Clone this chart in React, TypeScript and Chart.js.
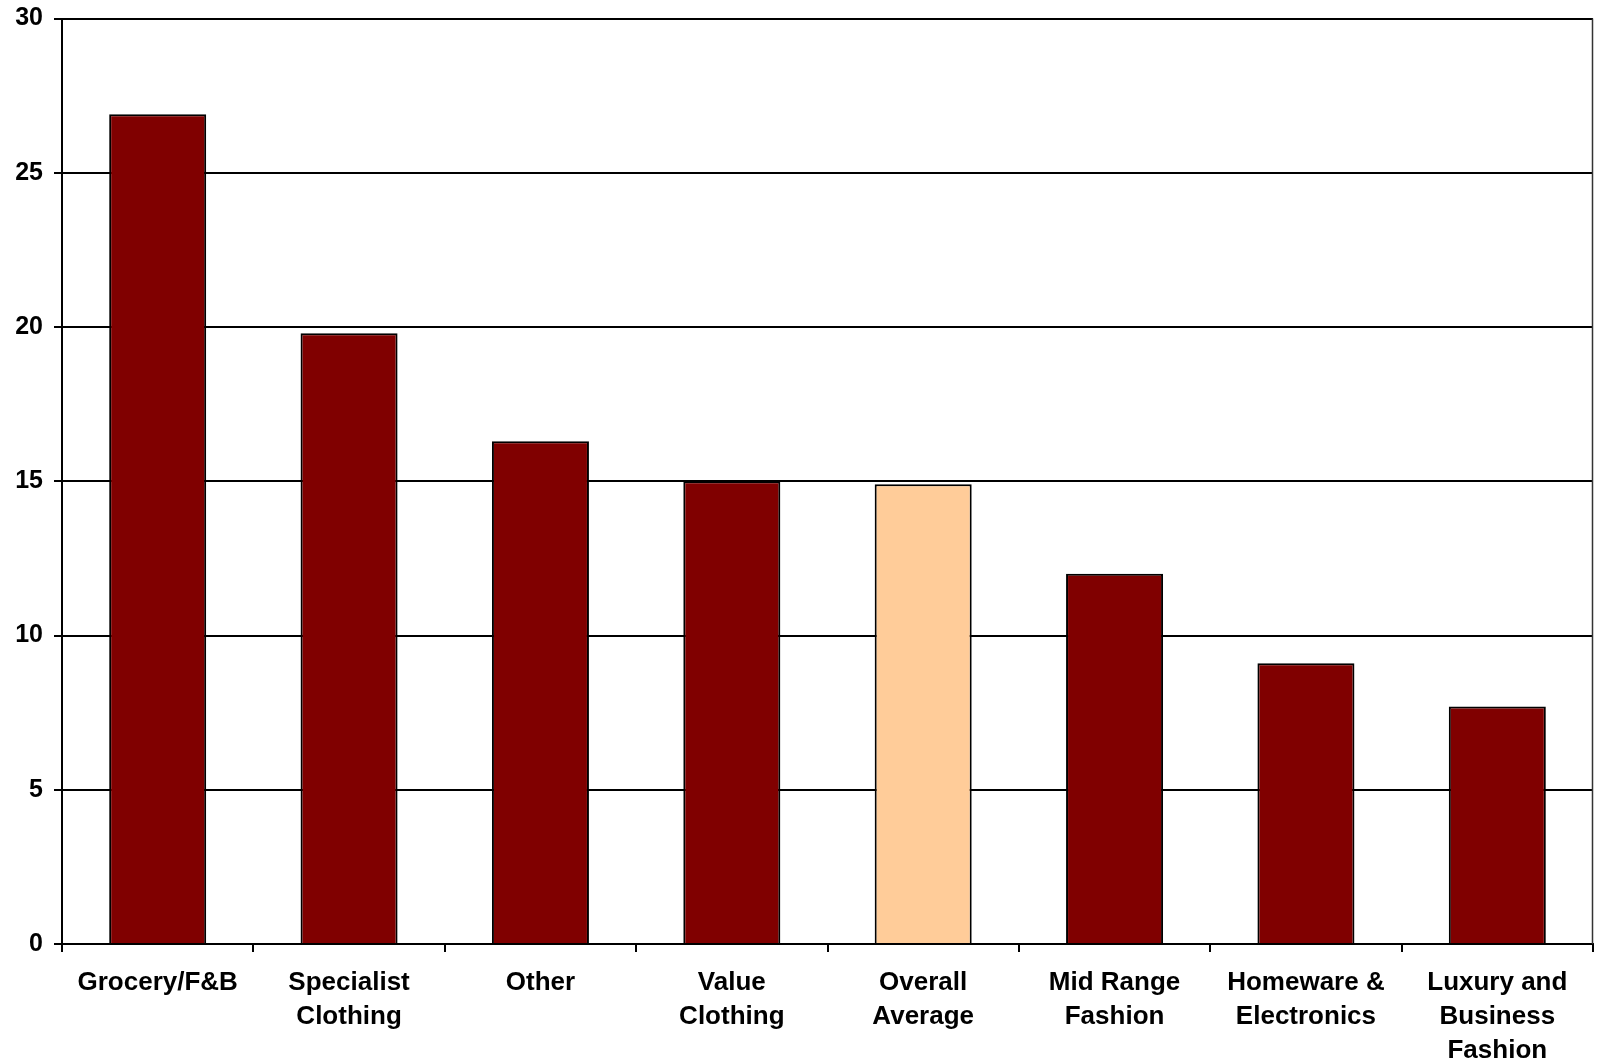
import React, { useEffect, useRef } from "react";
import { Chart, registerables } from "chart.js";

Chart.register(...registerables);

const categories: string[][] = [
  ["Grocery/F&B"],
  ["Specialist", "Clothing"],
  ["Other"],
  ["Value", "Clothing"],
  ["Overall", "Average"],
  ["Mid Range", "Fashion"],
  ["Homeware &", "Electronics"],
  ["Luxury and", "Business", "Fashion"],
];
const values: number[] = [26.9, 19.8, 16.3, 15.0, 14.9, 12.0, 9.1, 7.7];
const highlighted: string = "Overall";
const yTicks: number[] = [0, 5, 10, 15, 20, 25, 30];

const FONT = "'Liberation Sans', Arial, Helvetica, sans-serif";

// Closes the plot frame on the right-hand side
const framePlugin = {
  id: "frame",
  afterDraw(chart: any) {
    const { ctx, chartArea } = chart;
    ctx.save();
    ctx.strokeStyle = "#333333";
    ctx.lineWidth = 1.5;
    ctx.beginPath();
    ctx.moveTo(chartArea.right - 0.5, chartArea.top);
    ctx.lineTo(chartArea.right - 0.5, chartArea.bottom);
    ctx.stroke();
    ctx.restore();
  },
};

export default function App() {
  const ref = useRef<HTMLCanvasElement | null>(null);

  useEffect(() => {
    if (!ref.current) return;
    const colors = categories.map((c) => (c[0] === highlighted ? "#FFCC99" : "#800000"));
    const chart = new Chart(ref.current, {
      type: "bar",
      data: {
        labels: categories,
        datasets: [
          {
            data: values,
            backgroundColor: colors,
            borderColor: "#000000",
            borderWidth: 2,
            categoryPercentage: 1,
            barPercentage: 0.507,
          },
        ],
      },
      options: {
        responsive: false,
        animation: false,
        devicePixelRatio: 1,
        layout: { padding: { top: 18, right: 4, left: 0, bottom: 0 } },
        plugins: { legend: { display: false }, tooltip: { enabled: false } },
        scales: {
          x: {
            offset: true,
            grid: {
              offset: true,
              drawOnChartArea: false,
              drawTicks: true,
              tickLength: 8,
              color: "#000000",
              lineWidth: 2,
            },
            border: { color: "#000000", width: 2 },
            ticks: {
              color: "#000000",
              font: { family: FONT, size: 26, weight: "bold", lineHeight: 1.3 },
              padding: 14,
              maxRotation: 0,
              autoSkip: false,
            },
            afterFit(axis: any) {
              axis.height = 120;
            },
          },
          y: {
            min: 0,
            max: 30,
            afterBuildTicks(axis: any) {
              axis.ticks = yTicks.map((v) => ({ value: v }));
            },
            grid: {
              color: "#000000",
              lineWidth: 2,
              tickLength: 8,
            },
            border: { color: "#000000", width: 2 },
            ticks: {
              color: "#000000",
              font: { family: FONT, size: 25, weight: "bold", lineHeight: 0.6 },
              padding: 11,
            },
            afterFit(axis: any) {
              axis.width = 62;
            },
          },
        },
      },
      plugins: [framePlugin],
    });
    return () => chart.destroy();
  }, []);

  return (
    <div style={{ position: "fixed", left: 0, top: 0, width: 1597, height: 1064, background: "#ffffff" }}>
      <canvas ref={ref} width={1597} height={1064} style={{ display: "block" }} />
    </div>
  );
}
